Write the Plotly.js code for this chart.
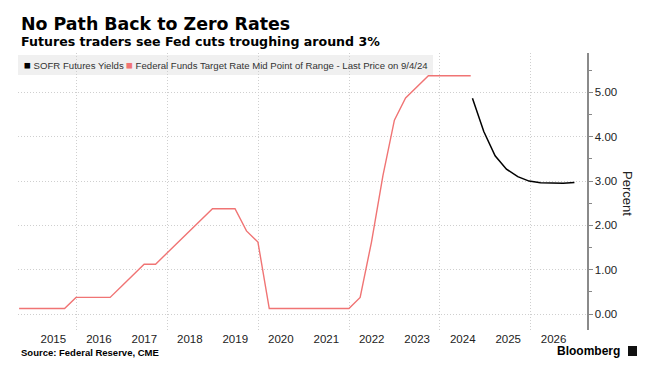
<!DOCTYPE html>
<html>
<head>
<meta charset="utf-8">
<script src="https://cdn.plot.ly/plotly-3.0.1.min.js"></script>
<style>html,body{margin:0;padding:0;background:#fff;}#chart{width:650px;height:377px;}</style>
</head>
<body>
<div id="chart"></div>
<script>
// ---- data ----
const fedDates = ["2014-09-30","2014-12-31","2015-03-31","2015-06-30","2015-09-30","2015-12-31",
  "2016-03-31","2016-06-30","2016-09-30","2016-12-31","2017-03-31","2017-06-30","2017-09-30","2017-12-31",
  "2018-03-31","2018-06-30","2018-09-30","2018-12-31","2019-03-31","2019-06-30","2019-09-30","2019-12-31",
  "2020-03-31","2020-06-30","2020-09-30","2020-12-31","2021-03-31","2021-06-30","2021-09-30","2021-12-31",
  "2022-03-31","2022-06-30","2022-09-30","2022-12-31","2023-03-31","2023-06-30","2023-09-30","2023-12-31",
  "2024-03-31","2024-06-30","2024-09-04"];
const fedRate = [0.125,0.125,0.125,0.125,0.125,0.375,
  0.375,0.375,0.375,0.625,0.875,1.125,1.125,1.375,
  1.625,1.875,2.125,2.375,2.375,2.375,1.875,1.625,
  0.125,0.125,0.125,0.125,0.125,0.125,0.125,0.125,
  0.375,1.625,3.125,4.375,4.875,5.125,5.375,5.375,
  5.375,5.375,5.375];
const sofrDates = ["2024-09-18","2024-12-18","2025-03-19","2025-06-18","2025-09-17",
  "2025-12-17","2026-03-18","2026-06-17","2026-09-16","2026-12-16"];
const sofrYield = [4.87,4.12,3.57,3.27,3.10,3.00,2.96,2.95,2.95,2.97];
const years = [2015,2016,2017,2018,2019,2020,2021,2022,2023,2024,2025,2026];
const yTicks = [0,1,2,3,4,5];

const seriesNames = ["SOFR Futures Yields","Federal Funds Target Rate Mid Point of Range - Last Price on 9/4/24"];
const colSofr = "#000000", colFed = "#f07474";

// ---- layout geometry ----
const W = 650, H = 377;
const L = 18, R = 587, T = 53, B = 330;
const px = p => (p - L) / (R - L);
const py = p => (B - p) / (B - T);
const FONT = "Liberation Sans, Arial, sans-serif";
const TFONT = "DejaVu Sans, Verdana, sans-serif";
const xRange = ["2014-09-21","2027-03-27"];
const GRID = "#cfcfcf", GDASH = "1px,2px";
const sq = c => "<span style='color:" + c + ";font-size:11.5px'>■</span> ";

const traces = [
  {x: fedDates, y: fedRate, type: "scatter", mode: "lines", name: seriesNames[1],
   line: {color: colFed, width: 1.4}, xaxis: "x", yaxis: "y", showlegend: false, hoverinfo: "skip"},
  {x: sofrDates, y: sofrYield, type: "scatter", mode: "lines", name: seriesNames[0],
   line: {color: colSofr, width: 1.5}, xaxis: "x2", yaxis: "y", showlegend: false, hoverinfo: "skip"}
];

const layout = {
  width: W, height: H,
  margin: {l: L, r: W - R, t: T, b: H - B, pad: 0},
  paper_bgcolor: "#fff", plot_bgcolor: "#fff",
  font: {family: FONT, size: 11, color: "#222"},
  showlegend: false,
  xaxis: {
    type: "date", range: xRange, showgrid: false, zeroline: false, showline: false,
    tickmode: "array", tickvals: years.map(y => y + "-07-02"), ticktext: years.map(String),
    ticks: "", tickfont: {size: 11.5, color: "#222"}, fixedrange: true
  },
  xaxis2: {
    type: "date", range: xRange, overlaying: "x", side: "bottom",
    showgrid: true, gridcolor: GRID, griddash: GDASH, gridwidth: 1,
    tick0: "2016-01-01", dtick: "M24", showticklabels: false, ticks: "", zeroline: false
  },
  yaxis: {
    side: "right", range: [-0.36, 5.89], tickmode: "array", tickvals: yTicks,
    tickformat: ".2f", ticks: "outside", ticklen: 4, tickcolor: "#888", tickwidth: 1,
    showline: true, linecolor: "#8a8a8a", linewidth: 1.5,
    showgrid: true, gridcolor: GRID, griddash: GDASH, gridwidth: 1, zeroline: false,
    minor: {dtick: 0.5, ticks: "outside", ticklen: 3, tickcolor: "#888", showgrid: false},
    tickfont: {size: 11.5, color: "#222"}
  },
  shapes: [
    {type: "rect", xref: "paper", yref: "paper", x0: px(18), x1: px(433), y0: py(75), y1: py(55),
     fillcolor: "#f0f0f0", line: {width: 0}, layer: "below"},
    {type: "rect", xref: "paper", yref: "paper", x0: px(628), x1: px(637), y0: py(356), y1: py(346),
     fillcolor: "#111", line: {width: 0}}
  ],
  annotations: [
    {text: "<b>No Path Back to Zero Rates</b>", xref: "paper", yref: "paper", x: px(19), y: py(24),
     xanchor: "left", yanchor: "middle", showarrow: false, font: {size: 17.4, color: "#000", family: TFONT}},
    {text: "<b>Futures traders see Fed cuts troughing around 3%</b>", xref: "paper", yref: "paper", x: px(19), y: py(41),
     xanchor: "left", yanchor: "middle", showarrow: false, font: {size: 12.6, color: "#000", family: TFONT}},
    {text: sq(colSofr) + seriesNames[0], xref: "paper", yref: "paper",
     x: px(22), y: py(64.5), xanchor: "left", yanchor: "middle", showarrow: false, font: {size: 9.6, color: "#333", family: FONT}},
    {text: sq(colFed) + seriesNames[1], xref: "paper", yref: "paper",
     x: px(124), y: py(64.5), xanchor: "left", yanchor: "middle", showarrow: false, font: {size: 9.6, color: "#333", family: FONT}},
    {text: "Percent", xref: "paper", yref: "paper", x: px(628), y: py(193), textangle: 90,
     xanchor: "center", yanchor: "middle", showarrow: false, font: {size: 13, color: "#222", family: FONT}},
    {text: "<b>Source: Federal Reserve, CME</b>", xref: "paper", yref: "paper", x: px(19), y: py(352),
     xanchor: "left", yanchor: "middle", showarrow: false, font: {size: 9.5, color: "#000", family: FONT}},
    {text: "<b>Bloomberg</b>", xref: "paper", yref: "paper", x: px(622), y: py(351),
     xanchor: "right", yanchor: "middle", showarrow: false, font: {size: 12, color: "#000", family: FONT}}
  ]
};

Plotly.newPlot("chart", traces, layout, {staticPlot: true, displayModeBar: false});
</script>
</body>
</html>
